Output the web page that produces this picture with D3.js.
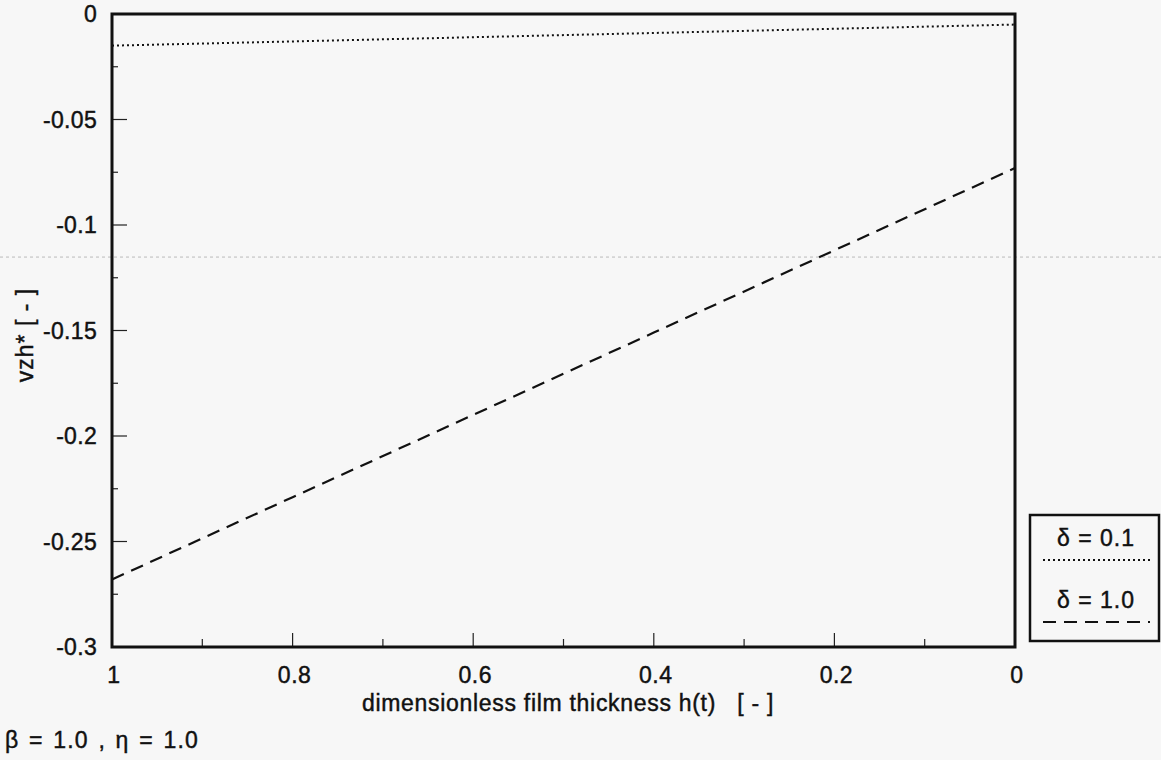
<!DOCTYPE html>
<html>
<head>
<meta charset="utf-8">
<script src="https://cdn.jsdelivr.net/npm/d3@7"></script>
<style>
  html, body { margin: 0; padding: 0; background: #f7f7f7; }
  svg { display: block; }
  text { font-family: "Liberation Sans", Arial, Helvetica, sans-serif; fill: #111; stroke: #111; stroke-width: 0.45px; white-space: pre; }
</style>
</head>
<body>
<svg id="chart" width="1161" height="760"></svg>
<script>
// ---- data ----
const hValues   = [1, 0.8, 0.6, 0.4, 0.2, 0];
const delta01   = [-0.0150, -0.0130, -0.0110, -0.0090, -0.0070, -0.0050];
const delta10   = [-0.268, -0.229, -0.190, -0.151, -0.112, -0.073];
const seriesNames = ["δ = 0.1", "δ = 1.0"];
const xTicks = [1, 0.8, 0.6, 0.4, 0.2, 0];
const xTickLabels = ["1", "0.8", "0.6", "0.4", "0.2", "0"];
const yTicks = [0, -0.05, -0.1, -0.15, -0.2, -0.25, -0.3];
const yTickLabels = ["0", "-0.05", "-0.1", "-0.15", "-0.2", "-0.25", "-0.3"];
const xLabel = "dimensionless film thickness h(t)   [ - ]";
const yLabel = "vzh* [ - ]";
const footer = "β = 1.0 , η = 1.0";

const svg = d3.select("#chart");
const L = 112, R = 1015, T = 14, B = 647;
const x = d3.scaleLinear().domain([1, 0]).range([L, R]);
const y = d3.scaleLinear().domain([0, -0.3]).range([T, B]);

// faint scan artefact line
svg.append("line")
  .attr("x1", 0).attr("x2", 1161)
  .attr("y1", y(-0.1152)).attr("y2", y(-0.1152))
  .attr("stroke", "#bbb").attr("stroke-width", 1).attr("stroke-dasharray", "3,3");

// minor / major ticks (inward)
const yMinor = d3.range(0, -0.3001, -0.025);
svg.append("g").selectAll("line").data(yMinor).join("line")
  .attr("x1", L).attr("x2", (d, i) => L + (i % 2 === 0 ? 15 : 6))
  .attr("y1", d => y(d)).attr("y2", d => y(d))
  .attr("stroke", "#222").attr("stroke-width", 1.2);
const xMinor = d3.range(0, 10.5, 1).map(v => v / 10);
svg.append("g").selectAll("line").data(xMinor).join("line")
  .attr("x1", d => x(d)).attr("x2", d => x(d))
  .attr("y1", B).attr("y2", (d, i) => B - (i % 2 === 0 ? 14 : 8))
  .attr("stroke", "#222").attr("stroke-width", 1.2);

// frame
svg.append("rect")
  .attr("x", L).attr("y", T).attr("width", R - L).attr("height", B - T)
  .attr("fill", "none").attr("stroke", "#111").attr("stroke-width", 3);

// tick labels
svg.append("g").selectAll("text").data(yTicks).join("text")
  .attr("x", 97).attr("y", d => y(d)).attr("dy", "0.36em")
  .attr("text-anchor", "end").attr("font-size", 23).attr("letter-spacing", "0.3px")
  .text((d, i) => yTickLabels[i]);
svg.append("g").selectAll("text").data(xTicks).join("text")
  .attr("x", d => x(d) + 2).attr("y", 683)
  .attr("text-anchor", "middle").attr("font-size", 23).attr("letter-spacing", "0.5px")
  .text((d, i) => xTickLabels[i]);

// axis labels
svg.append("text").attr("x", 568).attr("y", 711)
  .attr("text-anchor", "middle").attr("font-size", 23).attr("letter-spacing", "0.7px")
  .text(xLabel);
svg.append("text")
  .attr("transform", `translate(33,${335}) rotate(-90)`)
  .attr("text-anchor", "middle").attr("font-size", 23).attr("letter-spacing", "1px")
  .text(yLabel);
svg.append("text").attr("x", 5).attr("y", 748)
  .attr("font-size", 23).attr("letter-spacing", "1.2px").attr("word-spacing", "2px")
  .text(footer);

// lines
const line = d3.line().x(d => x(d[0])).y(d => y(d[1]));
svg.append("path")
  .datum(hValues.map((h, i) => [h, delta01[i]]))
  .attr("d", line).attr("fill", "none")
  .attr("stroke", "#111").attr("stroke-width", 2).attr("stroke-dasharray", "2,3");
svg.append("path")
  .datum(hValues.map((h, i) => [h, delta10[i]]))
  .attr("d", line).attr("fill", "none")
  .attr("stroke", "#111").attr("stroke-width", 2.2).attr("stroke-dasharray", "13,8");

// legend
const lg = svg.append("g");
lg.append("rect").attr("x", 1030).attr("y", 515).attr("width", 129).attr("height", 126)
  .attr("fill", "none").attr("stroke", "#111").attr("stroke-width", 2.5);
const legendStyles = [{dash: "2,3", w: 2}, {dash: "13,8", w: 2.2}];
seriesNames.forEach((name, i) => {
  const by = 546 + i * 62;
  lg.append("text").attr("x", 1096).attr("y", by).attr("text-anchor", "middle")
    .attr("font-size", 23).attr("letter-spacing", "1px").text(name);
  lg.append("line").attr("x1", 1043).attr("x2", 1150)
    .attr("y1", by + 14).attr("y2", by + 14)
    .attr("stroke", "#111").attr("stroke-width", legendStyles[i].w)
    .attr("stroke-dasharray", legendStyles[i].dash);
});
</script>
</body>
</html>
